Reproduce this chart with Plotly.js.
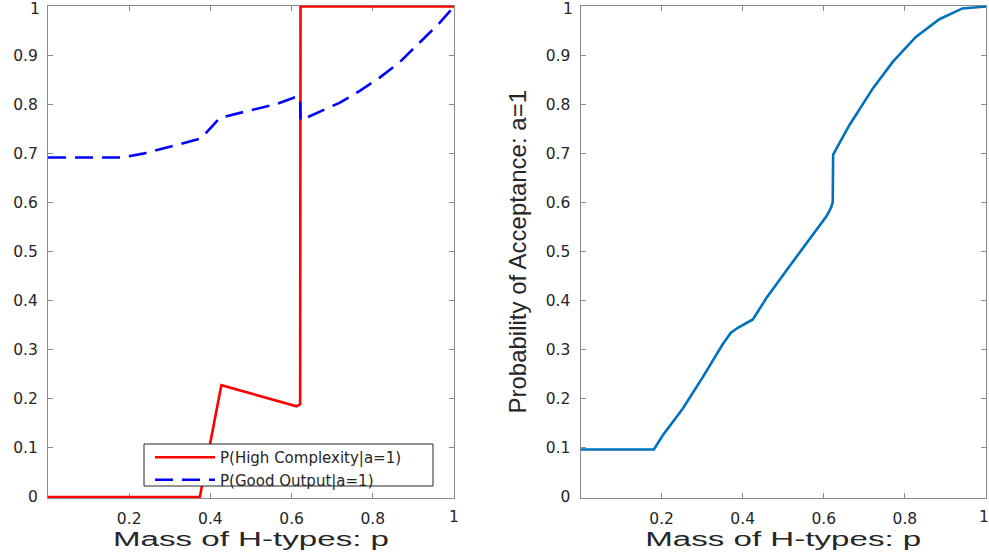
<!DOCTYPE html>
<html>
<head>
<meta charset="utf-8">
<script src="https://cdn.plot.ly/plotly-3.0.1.min.js"></script>
<style>
  html, body { margin: 0; padding: 0; background: #ffffff; }
  #chart { width: 989px; height: 558px; }
</style>
</head>
<body>
<div id="chart"></div>
<script>
// ---- data ----
const pHigh = [0, 0.374, 0.427, 0.612, 0.621, 0.622, 1];
const probHigh = [0, 0, 0.228, 0.185, 0.189, 1, 1];

const pGood = [0, 0.18, 0.234, 0.307, 0.373, 0.39, 0.423, 0.497, 0.5625, 0.608, 0.621, 0.622, 0.669, 0.719, 0.768, 0.817, 0.867, 0.916, 0.965, 1];
const probGood = [0.692, 0.692, 0.700, 0.716, 0.730, 0.743, 0.773, 0.788, 0.801, 0.815, 0.814, 0.768, 0.786, 0.804, 0.828, 0.855, 0.887, 0.927, 0.967, 1];

const pAcc = [0, 0.181, 0.203, 0.252, 0.302, 0.351, 0.371, 0.388, 0.425, 0.458, 0.515, 0.573, 0.607, 0.618, 0.622, 0.623, 0.663, 0.721, 0.770, 0.827, 0.885, 0.942, 1];
const probAcc = [0.097, 0.097, 0.126, 0.180, 0.245, 0.312, 0.335, 0.345, 0.362, 0.405, 0.470, 0.536, 0.573, 0.590, 0.601, 0.698, 0.758, 0.833, 0.887, 0.938, 0.974, 0.996, 1];

// tick labels; the last one of each axis sits on the picture's edge and is placed separately
const xTickVals = [0.2, 0.4, 0.6, 0.8, 1];
const xTickText = ['0.2', '0.4', '0.6', '0.8', '1'];
const yTickVals = [0, 0.1, 0.2, 0.3, 0.4, 0.5, 0.6, 0.7, 0.8, 0.9, 1];
const yTickText = ['0', '0.1', '0.2', '0.3', '0.4', '0.5', '0.6', '0.7', '0.8', '0.9', '1'];

const nameHigh = 'P(High Complexity|a=1)';
const nameGood = 'P(Good Output|a=1)';
const xTitle = 'Mass of H-types: p';
const yTitleRight = 'Probability of Acceptance: a=1';

// ---- traces ----
const traces = [
  { x: pHigh, y: probHigh, type: 'scatter', mode: 'lines', name: nameHigh,
    line: { color: '#ff0000', width: 2.6 }, xaxis: 'x', yaxis: 'y' },
  { x: pGood, y: probGood, type: 'scatter', mode: 'lines', name: nameGood,
    line: { color: '#0000ff', width: 2.6, dash: '18px,9px' }, xaxis: 'x', yaxis: 'y' },
  { x: pAcc, y: probAcc, type: 'scatter', mode: 'lines', showlegend: false,
    line: { color: '#0072bd', width: 2.6 }, xaxis: 'x2', yaxis: 'y2' }
];

const W = 989, H = 558;
const tickFont = { family: 'DejaVu Sans', size: 15.5, color: '#262626' };
const axisCommon = {
  showline: true, linecolor: '#8a8a8a', linewidth: 1, mirror: 'ticks',
  ticks: 'inside', ticklen: 5, tickcolor: '#8a8a8a', tickwidth: 1,
  showgrid: false, zeroline: false, tickfont: tickFont, automargin: false,
  tickmode: 'array', ticklabelstandoff: 6,
  layer: 'below traces', fixedrange: true
};
const xDom1 = [48 / W, 454 / W];
const xDom2 = [580.5 / W, 986 / W];
const yDom = [60 / H, 552.5 / H];

const lastX = xTickText.length - 1, lastY = yTickText.length - 1;
const innerX = xTickText.map((t, i) => i === lastX ? '' : t);
const innerY = yTickText.map((t, i) => i === lastY ? '' : t);

const edgeLabels = [
  { text: yTickText[lastY], x: xDom1[0], xanchor: 'right', xshift: -7, y: yDom[1], yanchor: 'top', yshift: 6 },
  { text: yTickText[lastY], x: xDom2[0], xanchor: 'right', xshift: -7, y: yDom[1], yanchor: 'top', yshift: 6 },
  { text: xTickText[lastX], x: xDom1[1], xanchor: 'center', xshift: 0, y: yDom[0], yanchor: 'top', yshift: -9 },
  { text: xTickText[lastX], x: 1, xanchor: 'right', xshift: 1, y: yDom[0], yanchor: 'top', yshift: -9 }
].map(a => Object.assign({ xref: 'paper', yref: 'paper', showarrow: false, font: tickFont, borderpad: 0 }, a));

const layout = {
  width: W, height: H,
  margin: { l: 0, r: 0, t: 0, b: 0 },
  paper_bgcolor: '#ffffff', plot_bgcolor: '#ffffff',
  showlegend: true,
  xaxis: Object.assign({}, axisCommon, {
    domain: xDom1, range: [0, 1], anchor: 'y', tickvals: xTickVals, ticktext: innerX,
    title: { text: xTitle, font: { family: 'Liberation Sans', size: 20, color: '#262626' }, standoff: 2 }
  }),
  yaxis: Object.assign({}, axisCommon, {
    domain: yDom, range: [-0.002, 1.002], anchor: 'x', tickvals: yTickVals, ticktext: innerY
  }),
  xaxis2: Object.assign({}, axisCommon, {
    domain: xDom2, range: [0, 1], anchor: 'y2', tickvals: xTickVals, ticktext: innerX,
    title: { text: xTitle, font: { family: 'Liberation Sans', size: 20, color: '#262626' }, standoff: 2 }
  }),
  yaxis2: Object.assign({}, axisCommon, {
    domain: yDom, range: [-0.002, 1.002], anchor: 'x2', tickvals: yTickVals, ticktext: innerY,
    title: { text: yTitleRight, font: { family: 'Liberation Sans', size: 24, color: '#262626' }, standoff: 12 }
  }),
  annotations: edgeLabels,
  // legend frame (the legend itself is drawn on top of it, without its own box)
  shapes: [{
    type: 'rect', xref: 'paper', yref: 'paper', layer: 'above',
    x0: 144 / W, x1: 433 / W, y0: (H - 486) / H, y1: (H - 444) / H,
    fillcolor: '#ffffff', line: { color: '#262626', width: 1 }
  }],
  legend: {
    x: 150 / W, y: (H - 441) / H, xanchor: 'left', yanchor: 'top',
    bgcolor: 'rgba(0,0,0,0)', borderwidth: 0, itemwidth: 60,
    font: { family: 'DejaVu Sans', size: 15, color: '#262626' },
    tracegroupgap: 0
  }
};

Plotly.newPlot('chart', traces, layout, { staticPlot: true, displayModeBar: false }).then(function (gd) {
  // the reference draws the axis titles in a very wide face: stretch them to the measured width
  gd.querySelectorAll('.g-xtitle text, .g-x2title text').forEach(function (t) {
    t.setAttribute('textLength', '276');
    t.setAttribute('lengthAdjust', 'spacingAndGlyphs');
  });
});
</script>
</body>
</html>
